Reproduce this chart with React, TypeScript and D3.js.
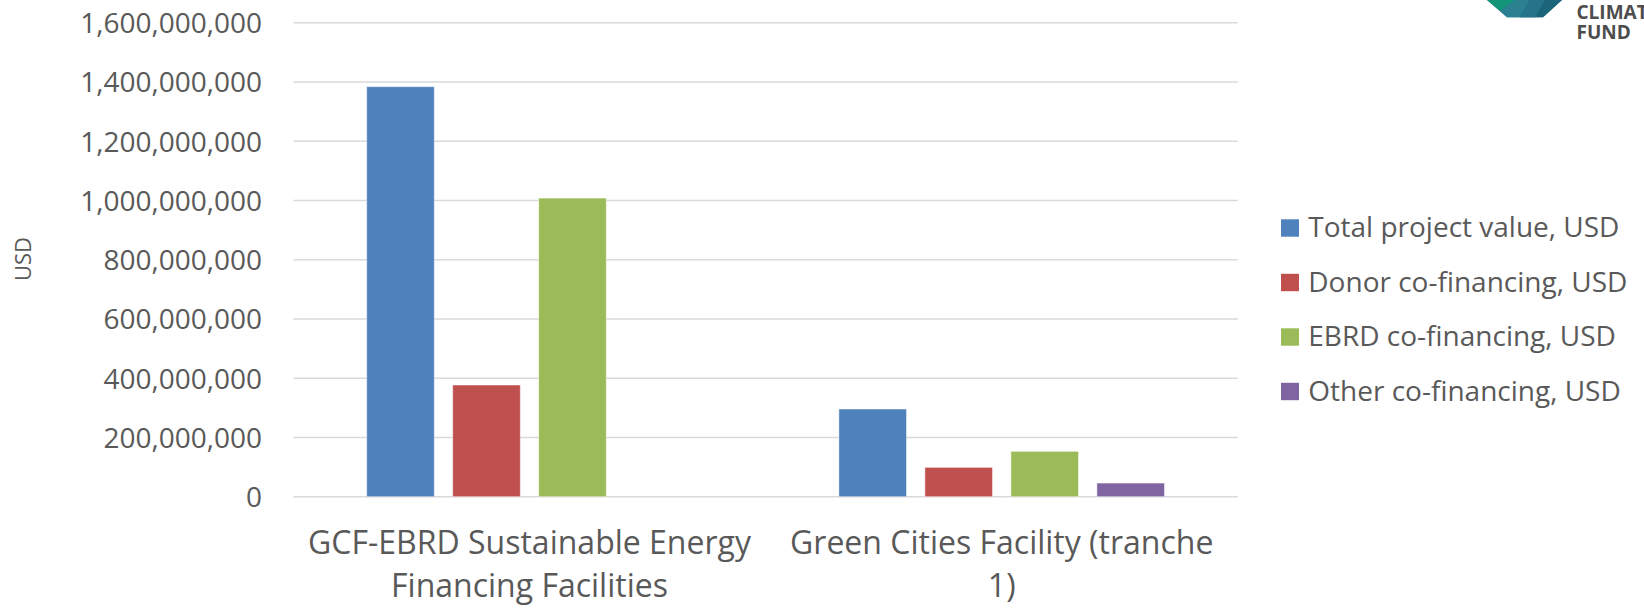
import React from "react";
import * as d3 from "d3";

const categories = [
  "GCF-EBRD Sustainable Energy Financing Facilities",
  "Green Cities Facility (tranche 1)",
];
const categoryLines = [
  ["GCF-EBRD Sustainable Energy", "Financing Facilities"],
  ["Green Cities Facility (tranche", "1)"],
];
const seriesNames = [
  "Total project value, USD",
  "Donor co-financing, USD",
  "EBRD co-financing, USD",
  "Other co-financing, USD",
];
const seriesColors = ["#4F81BD", "#C0504D", "#9BBB59", "#8064A2"];
const totalProjectValue = [1384000000, 296000000];
const donorCofinancing = [377000000, 99000000];
const ebrdCofinancing = [1008000000, 153000000];
const otherCofinancing = [0, 46000000];
const seriesValues = [totalProjectValue, donorCofinancing, ebrdCofinancing, otherCofinancing];
const yTicks = [0, 200000000, 400000000, 600000000, 800000000, 1000000000, 1200000000, 1400000000, 1600000000];
const yAxisTitle = "USD";

const W = 1644;
const H = 609;
const FONT = "'Open Sans', sans-serif";
const TEXT = "#595959";

export default function App() {
  const y = d3.scaleLinear().domain([0, 1600000000]).range([496.7, 22.7]);
  const x0 = d3.scaleBand<string>().domain(categories).range([293.4, 1237.8]);
  const x1 = d3
    .scaleBand<string>()
    .domain(seriesNames)
    .range([73.3, 398.9])
    .paddingInner(0.214)
    .paddingOuter(0);
  const fmt = d3.format(",");
  const [plotL, plotR] = x0.range();

  return (
    <svg
      width={W}
      height={H}
      style={{ position: "absolute", left: 0, top: 0, background: "#fff" }}
      fontFamily={FONT}
    >
      {/* gridlines */}
      {yTicks.map((t) => (
        <line
          key={"g" + t}
          x1={plotL}
          x2={plotR}
          y1={y(t)}
          y2={y(t)}
          stroke="#d9d9d9"
          strokeWidth={1.5}
        />
      ))}
      {/* y tick labels */}
      {yTicks.map((t) => (
        <text
          key={"t" + t}
          x={262}
          y={y(t) + 10.3}
          textAnchor="end"
          fontSize={28}
          fill={TEXT}
        >
          {fmt(t)}
        </text>
      ))}
      {/* y axis title */}
      <text
        transform={`translate(30.5,259) rotate(-90)`}
        textAnchor="middle"
        fontSize={22}
        fill={TEXT}
      >
        {yAxisTitle}
      </text>
      {/* bars */}
      {categories.map((c, ci) =>
        seriesNames.map((s, si) => {
          const v = seriesValues[si][ci];
          if (!v) return null;
          const bx = (x0(c) as number) + (x1(s) as number);
          return (
            <rect
              key={c + s}
              x={bx}
              y={y(v)}
              width={x1.bandwidth()}
              height={y(0) - y(v)}
              fill={seriesColors[si]}
              stroke="#ffffff"
              strokeOpacity={0.45}
              strokeWidth={1}
            />
          );
        })
      )}
      {/* category labels */}
      {categories.map((c, ci) => {
        const cx = (x0(c) as number) + x0.bandwidth() / 2;
        return categoryLines[ci].map((line, li) => (
          <text
            key={c + li}
            x={cx}
            y={554 + li * 43.4}
            textAnchor="middle"
            fontSize={32}
            fill={TEXT}
          >
            {line}
          </text>
        ));
      })}
      {/* legend */}
      {seriesNames.map((s, si) => {
        const cy = 228 + si * 54.5;
        return (
          <g key={"l" + s}>
            <rect x={1281} y={cy - 8.7} width={18} height={17.4} fill={seriesColors[si]} />
            <text x={1308.3} y={cy + 9} fontSize={28} fill={TEXT}>
              {s}
            </text>
          </g>
        );
      })}
      {/* partial logo top-right */}
      <g>
        <polygon points="1487,0 1562,0 1543,17.3 1507,17.3" fill="#1f6f84" />
        <polygon points="1487,0 1515,0 1500,11" fill="#13957a" />
        <polygon points="1500,11 1515,0 1530,0 1520,17.3 1507,17.3" fill="#2b8190" />
        <polygon points="1530,0 1562,0 1543,17.3 1520,17.3" fill="#1c6479" />
        <polygon points="1520,17.3 1530,0 1545,0 1535,17.3" fill="#25748a" />
        <text x={1576.5} y={19.3} fontSize={19} fontWeight="bold" fill="#4d4d4d" fontFamily={FONT}>
          CLIMATE
        </text>
        <text x={1576.5} y={39.3} fontSize={19} fontWeight="bold" fill="#4d4d4d" fontFamily={FONT}>
          FUND
        </text>
      </g>
    </svg>
  );
}
